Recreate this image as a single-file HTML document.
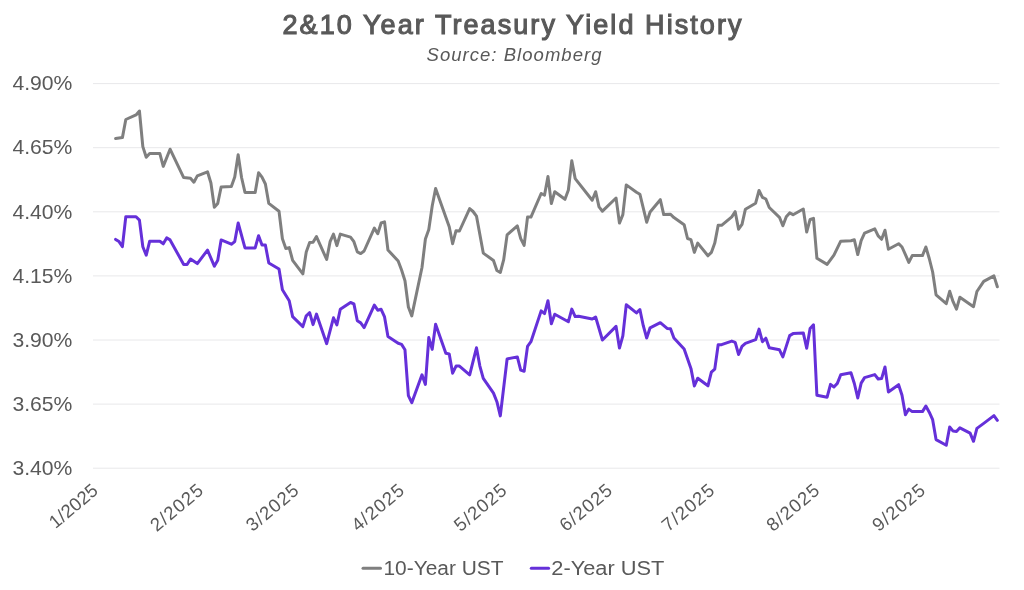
<!DOCTYPE html>
<html><head><meta charset="utf-8"><style>
html,body{margin:0;padding:0;background:#fff;}
body{width:1024px;height:590px;overflow:hidden;}
svg{display:block;font-family:"Liberation Sans",sans-serif;will-change:transform;}
</style></head><body>
<svg width="1024" height="590" viewBox="0 0 1024 590">
<rect width="1024" height="590" fill="#fff"/>
<text x="282.5" y="33.8" textLength="459" lengthAdjust="spacing" font-size="27" fill="#595959" stroke="#595959" stroke-width="1.1">2&amp;10 Year Treasury Yield History</text>
<text x="426.5" y="60.6" textLength="175" lengthAdjust="spacing" font-size="18.5" font-style="italic" fill="#595959">Source: Bloomberg</text>
<g stroke="#e8e8ea" stroke-width="1"><line x1="93" y1="83.6" x2="999.5" y2="83.6" /><line x1="93" y1="147.7" x2="999.5" y2="147.7" /><line x1="93" y1="211.8" x2="999.5" y2="211.8" /><line x1="93" y1="275.9" x2="999.5" y2="275.9" /><line x1="93" y1="340.0" x2="999.5" y2="340.0" /><line x1="93" y1="404.1" x2="999.5" y2="404.1" /><line x1="93" y1="468.2" x2="999.5" y2="468.2" /></g>
<g font-size="21" fill="#595959" text-anchor="end"><text x="72.4" y="90.3" textLength="60" lengthAdjust="spacingAndGlyphs">4.90%</text><text x="72.4" y="154.4" textLength="60" lengthAdjust="spacingAndGlyphs">4.65%</text><text x="72.4" y="218.5" textLength="60" lengthAdjust="spacingAndGlyphs">4.40%</text><text x="72.4" y="282.6" textLength="60" lengthAdjust="spacingAndGlyphs">4.15%</text><text x="72.4" y="346.7" textLength="60" lengthAdjust="spacingAndGlyphs">3.90%</text><text x="72.4" y="410.8" textLength="60" lengthAdjust="spacingAndGlyphs">3.65%</text><text x="72.4" y="474.9" textLength="60" lengthAdjust="spacingAndGlyphs">3.40%</text></g>
<g font-size="18.5" fill="#595959" text-anchor="end"><text transform="translate(99.2,492.5) rotate(-40.0)" textLength="57.0" lengthAdjust="spacing">1/2025</text><text transform="translate(204.3,492.5) rotate(-40.0)" textLength="62.0" lengthAdjust="spacing">2/2025</text><text transform="translate(300.0,492.5) rotate(-40.0)" textLength="62.0" lengthAdjust="spacing">3/2025</text><text transform="translate(405.4,492.5) rotate(-40.0)" textLength="62.0" lengthAdjust="spacing">4/2025</text><text transform="translate(508.0,492.5) rotate(-40.0)" textLength="62.0" lengthAdjust="spacing">5/2025</text><text transform="translate(613.5,492.5) rotate(-40.0)" textLength="62.0" lengthAdjust="spacing">6/2025</text><text transform="translate(715.7,492.5) rotate(-40.0)" textLength="62.0" lengthAdjust="spacing">7/2025</text><text transform="translate(820.6,492.5) rotate(-40.0)" textLength="62.0" lengthAdjust="spacing">8/2025</text><text transform="translate(926.3,492.5) rotate(-40.0)" textLength="62.0" lengthAdjust="spacing">9/2025</text></g>
<g fill="none" stroke-width="3" stroke-linejoin="round" stroke-linecap="round">
<path stroke="#7f7f7f" d="M115.60,138.6 L122.41,137.6 L125.81,119.5 L136.03,114.9 L139.43,111.0 L142.83,146.6 L146.24,157.3 L149.64,153.6 L159.86,153.6 L163.26,166.4 L170.07,149.2 L183.69,177.6 L190.50,178.3 L193.90,182.2 L197.30,175.9 L207.52,171.8 L210.92,183.0 L214.33,207.3 L217.73,203.4 L221.13,187.0 L231.35,186.6 L234.75,177.1 L238.16,154.7 L241.56,177.5 L244.97,192.4 L255.18,192.4 L258.58,172.7 L261.99,177.1 L265.39,184.0 L268.80,203.4 L279.01,211.3 L282.41,238.8 L285.82,248.5 L289.22,247.6 L292.63,260.3 L302.84,273.9 L306.25,251.9 L309.65,242.5 L313.05,242.2 L316.46,236.6 L326.67,259.5 L330.08,241.7 L333.48,234.1 L336.88,245.6 L340.29,234.1 L350.50,237.1 L353.91,241.7 L357.31,251.9 L360.72,253.6 L364.12,251.0 L374.33,228.1 L377.74,233.7 L381.14,223.0 L384.55,221.9 L387.95,250.0 L398.16,261.0 L401.57,270.0 L404.97,280.7 L408.38,307.0 L411.78,315.9 L421.99,267.5 L425.40,239.0 L428.80,229.5 L432.21,206.0 L435.61,188.5 L449.23,226.8 L452.63,243.7 L456.04,230.7 L459.44,231.0 L469.66,208.6 L473.06,211.5 L476.47,216.1 L483.27,253.1 L493.49,260.5 L496.89,270.5 L500.30,272.5 L503.70,259.6 L507.10,234.9 L517.32,225.9 L520.72,238.6 L524.13,245.4 L527.53,217.1 L530.94,217.1 L541.15,193.5 L544.55,195.1 L547.96,176.4 L551.36,203.6 L554.77,191.7 L564.98,199.3 L568.38,190.0 L571.79,160.7 L575.19,178.6 L592.21,200.2 L595.62,191.7 L599.02,206.9 L602.43,211.2 L616.05,198.0 L619.45,223.1 L622.85,214.6 L626.26,184.9 L636.47,192.2 L639.88,194.2 L646.69,222.2 L650.09,212.0 L660.30,199.7 L663.71,214.6 L670.52,214.2 L673.92,217.6 L684.13,224.7 L687.54,238.5 L690.94,239.7 L694.35,252.4 L697.75,243.1 L707.96,255.8 L711.37,252.4 L714.77,243.1 L718.18,225.3 L721.58,225.3 L731.79,216.8 L735.20,211.7 L738.60,229.2 L742.01,224.4 L745.41,209.2 L755.63,203.2 L759.03,190.5 L762.43,197.3 L765.84,199.0 L769.24,207.5 L779.46,217.3 L782.86,225.8 L786.27,216.8 L789.67,212.9 L793.07,214.7 L803.29,209.0 L806.69,232.1 L810.10,219.4 L813.50,218.4 L816.90,258.3 L827.12,264.4 L833.93,255.1 L840.74,241.2 L850.95,240.7 L854.35,239.8 L857.76,254.6 L861.16,240.7 L864.57,233.1 L874.78,228.8 L878.18,235.9 L881.59,239.3 L884.99,230.2 L888.40,249.2 L898.61,243.7 L902.01,247.0 L905.42,254.6 L908.82,262.4 L912.23,255.6 L922.44,255.6 L925.85,247.0 L929.25,258.5 L932.65,272.0 L936.06,294.9 L946.27,303.7 L949.68,291.3 L953.08,301.7 L956.49,309.2 L959.89,297.2 L973.51,306.7 L976.91,291.5 L983.72,281.4 L993.93,275.9 L997.34,286.8"/>
<path stroke="#6530d9" d="M115.60,239.4 L119.00,241.6 L122.41,246.7 L125.81,216.7 L136.03,216.7 L139.43,220.1 L142.83,246.7 L146.24,255.2 L149.64,241.3 L159.86,241.3 L163.26,243.8 L166.66,237.9 L170.07,239.9 L183.69,264.5 L187.09,264.5 L190.50,259.1 L197.30,263.6 L207.52,250.1 L214.33,266.2 L217.73,260.3 L221.13,239.9 L231.35,244.2 L234.75,241.6 L238.16,223.0 L244.97,247.9 L255.18,247.9 L258.58,235.7 L261.99,245.0 L265.39,245.0 L268.80,263.0 L279.01,269.0 L282.41,289.8 L289.22,300.8 L292.63,316.6 L302.84,326.6 L306.25,315.8 L309.65,312.7 L313.05,324.6 L316.46,314.1 L326.67,343.7 L333.48,317.8 L336.88,324.9 L340.29,309.3 L350.50,302.5 L353.91,303.9 L357.31,320.8 L360.72,322.9 L364.12,327.6 L374.33,305.1 L377.74,310.2 L381.14,309.3 L384.55,316.9 L387.95,336.5 L398.16,343.3 L401.57,344.4 L404.97,349.8 L408.38,395.6 L411.78,402.7 L421.99,374.8 L425.40,384.4 L428.80,337.6 L432.21,349.4 L435.61,324.2 L445.83,353.3 L449.23,353.9 L452.63,373.2 L456.04,366.1 L459.44,366.1 L469.66,374.8 L476.47,347.8 L479.87,366.1 L483.27,378.3 L493.49,393.1 L496.89,401.7 L500.30,415.9 L507.10,359.0 L517.32,356.9 L520.72,370.1 L524.13,371.2 L527.53,346.4 L530.94,341.7 L541.15,310.9 L544.55,313.6 L547.96,300.7 L551.36,323.7 L554.77,314.2 L568.38,321.7 L571.79,309.1 L575.19,316.6 L578.60,316.2 L592.21,319.0 L595.62,317.0 L602.43,340.0 L616.05,326.4 L619.45,348.1 L622.85,335.9 L626.26,304.8 L636.47,312.9 L639.88,309.5 L643.28,325.7 L646.69,338.0 L650.09,327.8 L660.30,322.7 L667.11,328.4 L670.52,328.8 L673.92,338.0 L684.13,349.1 L690.94,368.4 L694.35,386.0 L697.75,378.2 L707.96,385.8 L711.37,372.2 L714.77,369.1 L718.18,344.7 L721.58,344.7 L731.79,341.1 L735.20,342.3 L738.60,354.5 L742.01,346.4 L745.41,343.3 L755.63,339.7 L759.03,329.1 L762.43,341.7 L765.84,338.2 L769.24,347.8 L779.46,349.8 L782.86,356.9 L789.67,335.6 L793.07,333.6 L803.29,332.9 L806.69,348.2 L810.10,328.5 L813.50,324.8 L816.90,395.2 L827.12,397.2 L830.52,384.4 L833.93,387.0 L837.33,383.4 L840.74,374.8 L850.95,372.8 L854.35,383.5 L857.76,398.0 L861.16,383.1 L864.57,377.6 L874.78,374.6 L878.18,379.0 L881.59,378.6 L884.99,367.0 L888.40,391.9 L898.61,384.7 L902.01,395.3 L905.42,414.8 L908.82,409.1 L912.23,411.6 L922.44,411.6 L925.85,406.1 L929.25,412.2 L932.65,419.7 L936.06,439.6 L946.27,445.3 L949.68,427.0 L953.08,431.1 L956.49,431.5 L959.89,427.8 L970.10,433.1 L973.51,441.3 L976.91,428.4 L983.72,423.4 L993.93,415.6 L997.34,420.3"/>
</g>
<g stroke-width="3" stroke-linecap="round">
<line x1="363" y1="568.3" x2="380.5" y2="568.3" stroke="#7f7f7f"/>
<line x1="531.3" y1="568.3" x2="548.6" y2="568.3" stroke="#6530d9"/>
</g>
<g font-size="20" fill="#595959">
<text x="383.5" y="575" textLength="120" lengthAdjust="spacingAndGlyphs">10-Year UST</text>
<text x="551.3" y="575" textLength="113" lengthAdjust="spacingAndGlyphs">2-Year UST</text>
</g>
</svg>
</body></html>
